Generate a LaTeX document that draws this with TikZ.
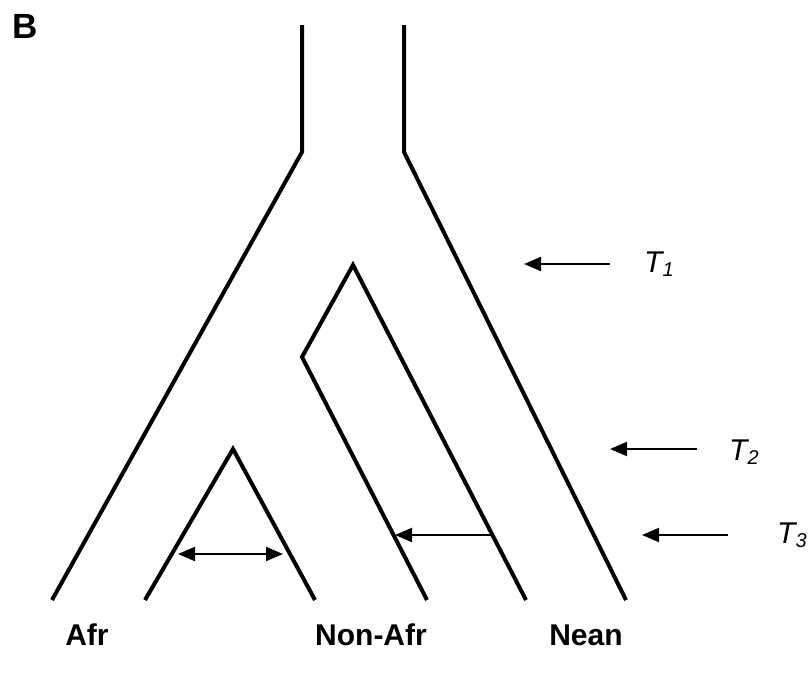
\documentclass[tikz,border=0pt]{standalone}
\usepackage{fontspec}
\setmainfont{Liberation Sans}
\usetikzlibrary{arrows.meta}
\begin{document}
\begin{tikzpicture}[x=1pt,y=-1pt,
  branch/.style={line width=4pt},
  flow/.style={line width=2pt,-{Triangle[length=17pt,width=14pt]}},
  mix/.style={line width=2pt,{Triangle[length=17pt,width=14pt]}-{Triangle[length=17pt,width=14pt]}},
  poplabel/.style={font=\fontsize{30}{30}\selectfont\bfseries, anchor=base, inner sep=0pt},
  timelabel/.style={font=\fontsize{30}{30}\selectfont\itshape, anchor=base west, inner sep=0pt}
]
\useasboundingbox (0,0) rectangle (812,675);

% panel letter
\node[font=\fontsize{35}{35}\selectfont\bfseries, anchor=base west, inner sep=0pt] (panel) at (12,38) {B};

% ancestral trunk
\coordinate (topL) at (302,25);
\coordinate (forkL) at (302,152);
\coordinate (topR) at (404,25);
\coordinate (forkR) at (404,152);
% outer walls
\coordinate (afrOut) at (52,600);
\coordinate (neanOut) at (626,600);
% African inner triangle
\coordinate (afrApex) at (233,449);
\coordinate (afrInL) at (145,600);
\coordinate (afrInR) at (315,600);
% Non-African / Neanderthal split
\coordinate (nonApex) at (353,265);
\coordinate (nonKink) at (302,357);
\coordinate (nonOut) at (427,600);
\coordinate (neanIn) at (526,600);

\draw[branch] (topL) -- (forkL) -- (afrOut);
\draw[branch] (topR) -- (forkR) -- (neanOut);
\draw[branch] (afrInL) -- (afrApex) -- (afrInR);
\draw[branch] (nonOut) -- (nonKink) -- (nonApex) -- (neanIn);

% gene flow Neanderthal -> Non-African
\coordinate (flowFrom) at (491,535);
\coordinate (flowTo) at (395,535);
\draw[flow] (flowFrom) -- (flowTo);

% migration within Africa
\coordinate (mixL) at (178,554);
\coordinate (mixR) at (283,554);
\draw[mix] (mixL) -- (mixR);

% time markers
\coordinate (t1from) at (610,264);
\coordinate (t1to) at (524,264);
\coordinate (t2from) at (697,449);
\coordinate (t2to) at (610,449);
\coordinate (t3from) at (728,535);
\coordinate (t3to) at (642,535);
\draw[flow] (t1from) -- (t1to);
\draw[flow] (t2from) -- (t2to);
\draw[flow] (t3from) -- (t3to);

\node[timelabel] (T1) at (644,272) {T\raisebox{-4pt}{\fontsize{20}{20}\selectfont 1}};
\node[timelabel] (T2) at (729,460) {T\raisebox{-4pt}{\fontsize{20}{20}\selectfont 2}};
\node[timelabel] (T3) at (777,543) {T\raisebox{-4pt}{\fontsize{20}{20}\selectfont 3}};

% population labels
\node[poplabel] (afr) at (87,645) {Afr};
\node[poplabel] (nonafr) at (371,645) {Non-Afr};
\node[poplabel] (nean) at (586,645) {Nean};
\end{tikzpicture}
\end{document}
